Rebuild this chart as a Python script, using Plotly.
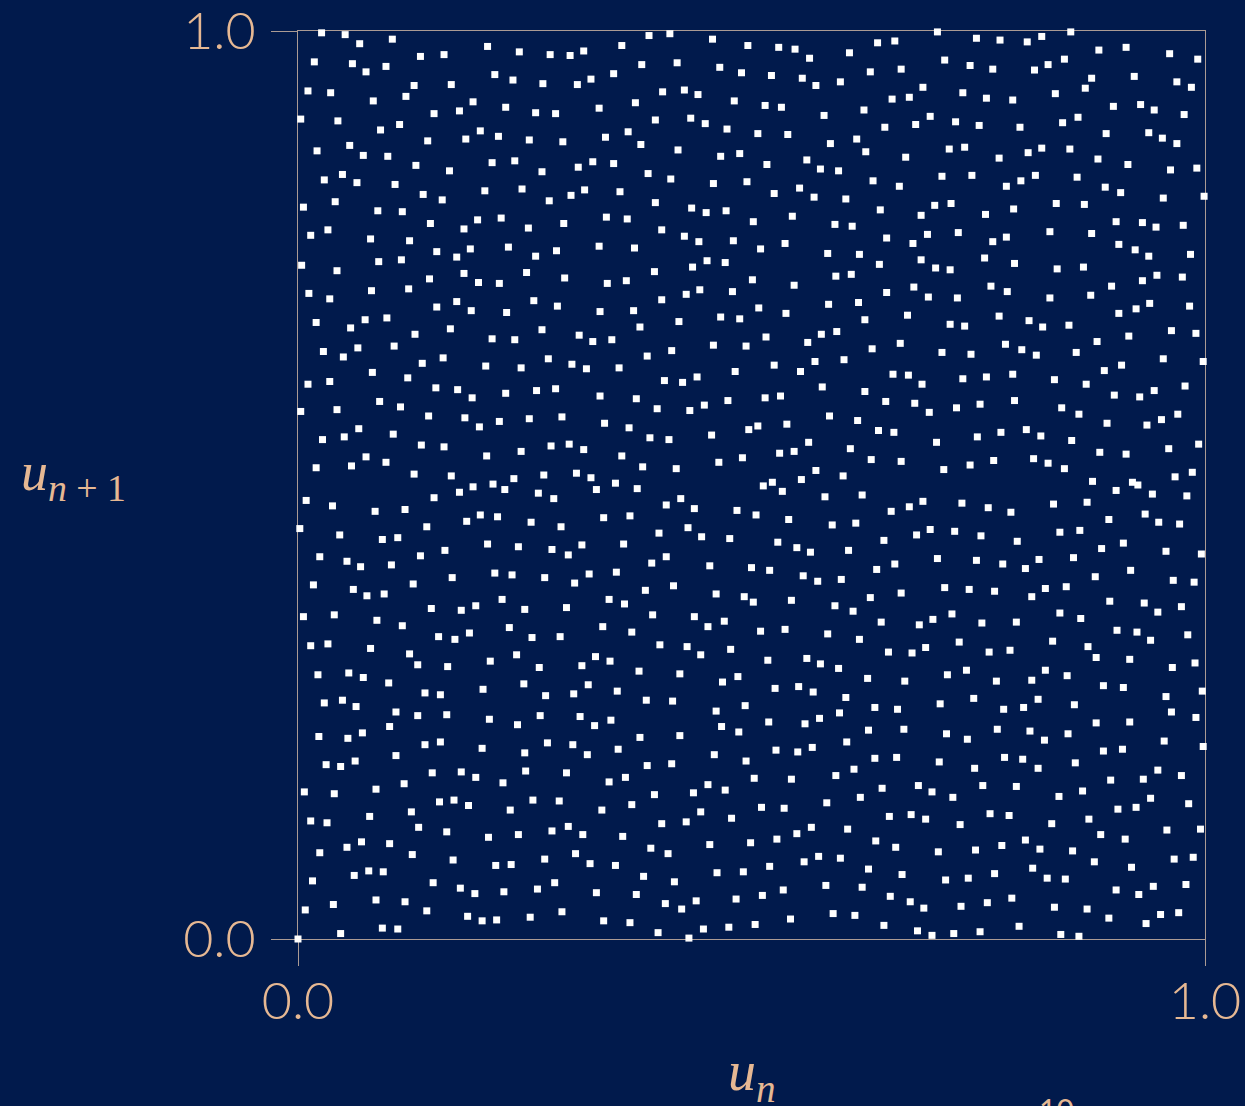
import plotly.graph_objects as go

# Successive pairs (u_n, u_{n+1}) of the generator, grouped by region of the unit square.
# top band (u_{n+1} > 2/3)
un_top_left = [0.026,0.052,0.068,0.104,0.018,0.060,0.075,0.097,0.135,0.161,0.209,0.244,0.278,0.300,0.315,
    0.011,0.036,0.083,0.119,0.128,0.169,0.217,0.237,0.270,0.308,0.323,0.003,0.044,0.091,0.112,0.150,0.178,
    0.193,0.229,0.262,0.284,0.021,0.057,0.072,0.099,0.143,0.185,0.201,0.221,0.255,0.292,0.029,0.049,0.065,
    0.107,0.130,0.167,0.214,0.239,0.269,0.309,0.325,0.006,0.041,0.088,0.115,0.138,0.159,0.206,0.247,0.277,
    0.301,0.316,0.014,0.033,0.080,0.123,0.146,0.183,0.198,0.224,0.254,0.293,0.004,0.043,0.089,0.114,0.153,
    0.175,0.190,0.232,0.262,0.285,0.012,0.035,0.081,0.122,0.145,0.183,0.199,0.222,0.252,0.294,0.020,0.058,
    0.074,0.098,0.153,0.175,0.191,0.230,0.260,0.286,0.168,0.269]
un1_top_left = [0.998,0.996,0.986,0.991,0.966,0.964,0.955,0.961,0.972,0.974,0.983,0.977,0.974,0.973,0.978,
    0.934,0.932,0.923,0.928,0.940,0.941,0.952,0.946,0.942,0.941,0.947,0.903,0.901,0.891,0.897,0.909,0.912,
    0.922,0.916,0.910,0.909,0.868,0.874,0.863,0.862,0.879,0.881,0.890,0.884,0.880,0.878,0.836,0.842,0.833,
    0.831,0.852,0.846,0.855,0.857,0.845,0.850,0.856,0.806,0.812,0.802,0.801,0.820,0.814,0.824,0.826,0.813,
    0.819,0.825,0.775,0.781,0.771,0.769,0.788,0.782,0.792,0.794,0.783,0.788,0.742,0.736,0.746,0.748,0.757,
    0.751,0.760,0.762,0.752,0.758,0.711,0.705,0.714,0.716,0.727,0.733,0.723,0.722,0.734,0.728,0.679,0.673,
    0.682,0.684,0.696,0.702,0.692,0.690,0.703,0.697,0.672,0.671]

un_top_mid = [0.387,0.410,0.457,0.357,0.496,0.530,0.548,0.564,0.608,0.639,0.658,
    0.379,0.418,0.348,0.465,0.489,0.522,0.556,0.571,0.598,0.631,0.665,
    0.402,0.426,0.441,0.372,0.332,0.481,0.515,0.533,0.580,0.624,0.655,
    0.394,0.433,0.449,0.339,0.364,0.473,0.507,0.540,0.587,0.616,0.647,
    0.378,0.419,0.466,0.487,0.348,0.517,0.561,0.576,0.596,0.626,
    0.386,0.411,0.355,0.394,0.458,0.495,0.525,0.553,0.569,0.604,0.634,0.663,
    0.340,0.363,0.434,0.450,0.472,0.502,0.545,0.401,0.426,0.442,0.480,0.592,0.611,0.642,0.649,
    0.332,0.371,0.510,0.537,0.584,0.619,0.641,
    0.393,0.435,0.451,0.471,0.341,0.362,0.501,0.547,0.593,0.610,0.649,
    0.401,0.428,0.443,0.479,0.333,0.370,0.508,0.538,0.585,0.618,0.377,0.420,0.466,0.487,0.625,0.594]
un1_top_mid = [0.995,0.997,0.991,0.984,0.984,0.982,0.980,0.970,0.976,0.987,0.989,
    0.963,0.965,0.953,0.960,0.954,0.951,0.948,0.940,0.944,0.955,0.958,
    0.933,0.935,0.930,0.921,0.915,0.923,0.918,0.916,0.907,0.913,0.925,
    0.902,0.904,0.898,0.883,0.889,0.892,0.887,0.886,0.876,0.881,0.894,
    0.875,0.869,0.862,0.865,0.854,0.853,0.858,0.848,0.846,0.867,
    0.843,0.837,0.823,0.811,0.832,0.834,0.821,0.827,0.817,0.815,0.835,0.829,
    0.795,0.793,0.805,0.800,0.802,0.790,0.796,0.781,0.774,0.768,0.769,0.787,0.785,0.803,0.772,
    0.763,0.761,0.760,0.766,0.755,0.754,0.743,
    0.735,0.740,0.747,0.745,0.722,0.725,0.726,0.720,0.730,0.732,0.712,
    0.704,0.710,0.715,0.713,0.691,0.692,0.695,0.689,0.699,0.701,0.674,0.680,0.685,0.683,0.682,0.669]

un_top_right = [0.705,0.748,0.774,0.804,0.820,0.852,
    0.713,0.741,0.766,0.812,0.827,0.845,0.883,0.913,0.961,0.992,
    0.689,0.674,0.733,0.759,0.788,0.835,0.868,0.875,0.922,0.969,0.985,
    0.697,0.681,0.725,0.751,0.796,0.843,0.860,0.899,0.929,0.944,0.977,
    0.718,0.735,0.670,0.773,0.805,0.820,0.851,0.891,0.938,0.953,0.969,
    0.882,0.915,0.962,0.991,
    0.710,0.743,0.781,0.797,0.813,0.859,0.890,0.907,0.954,0.999,
    0.702,0.720,0.687,0.758,0.789,0.836,0.867,0.902,0.931,0.946,0.976,
    0.694,0.678,0.728,0.766,0.781,0.829,0.875,0.905,0.923,0.938,0.984,
    0.687,0.703,0.719,0.757,0.790,0.837,0.866,0.897,0.931,0.947,0.975,
    0.679,0.695,0.727,0.764,0.782,0.829,0.874,0.905,0.924,0.939,0.983,
    0.672,0.719,0.735,0.773,0.806,0.821,0.850,0.963]
un1_top_right = [0.999,0.992,0.990,0.988,0.994,0.999,
    0.968,0.962,0.958,0.957,0.963,0.969,0.979,0.982,0.975,0.969,
    0.938,0.927,0.932,0.926,0.924,0.931,0.937,0.948,0.950,0.944,0.938,
    0.906,0.897,0.900,0.896,0.894,0.899,0.905,0.917,0.919,0.913,0.908,
    0.870,0.872,0.861,0.860,0.866,0.871,0.870,0.887,0.888,0.882,0.876,
    0.859,0.853,0.847,0.849,
    0.840,0.841,0.829,0.835,0.841,0.839,0.828,0.822,0.816,0.818,
    0.808,0.810,0.797,0.798,0.804,0.810,0.809,0.790,0.789,0.784,0.786,
    0.776,0.766,0.778,0.768,0.773,0.779,0.777,0.765,0.759,0.752,0.754,
    0.748,0.739,0.737,0.750,0.744,0.738,0.740,0.719,0.725,0.731,0.729,
    0.718,0.707,0.706,0.719,0.713,0.706,0.709,0.689,0.694,0.700,0.697,
    0.687,0.677,0.675,0.686,0.681,0.674,0.676,0.670]

# middle band (1/3 < u_{n+1} < 2/3)
un_mid_left = [0.129,0.310,0.325,0.214,0.239,
    0.028,0.050,0.066,0.106,0.137,0.160,0.207,0.246,0.276,0.302,0.318,
    0.011,0.035,0.082,0.121,0.152,0.176,0.192,0.229,0.263,0.284,
    0.003,0.043,0.090,0.113,0.144,0.184,0.200,0.222,0.255,0.291,
    0.027,0.051,0.067,0.105,0.136,0.161,0.208,0.246,0.279,0.299,0.315,
    0.020,0.059,0.075,0.097,0.128,0.169,0.193,0.215,0.228,0.238,0.271,0.307,0.323,0.329,
    0.178,0.265,0.282,0.150,
    0.009,0.038,0.085,0.118,
    0.002,0.046,0.093,0.110,0.142,0.186,0.201,0.220,0.257,0.290,
    0.024,0.054,0.069,0.103,0.135,0.162,0.209,0.243,0.280,0.298,0.313,
    0.017,0.061,0.076,0.095,0.127,0.170,0.217,0.236,0.272,0.305,0.321,
    0.006,0.040,0.087,0.115,0.147,0.180,0.196,0.225,0.250,0.296,
    0.155,0.189,0.233,0.258,0.289]
un1_mid_left = [0.666,0.665,0.658,0.661,0.660,
    0.647,0.641,0.651,0.653,0.634,0.640,0.631,0.629,0.639,0.633,0.628,
    0.611,0.614,0.624,0.618,0.607,0.605,0.596,0.601,0.604,0.606,
    0.581,0.583,0.592,0.586,0.576,0.574,0.564,0.570,0.573,0.575,
    0.550,0.553,0.562,0.556,0.544,0.542,0.532,0.537,0.543,0.545,0.539,
    0.519,0.521,0.531,0.525,0.512,0.510,0.498,0.501,0.495,0.507,0.511,0.513,0.508,0.495,
    0.492,0.491,0.485,0.486,
    0.483,0.477,0.471,0.473,
    0.452,0.445,0.440,0.442,0.454,0.460,0.467,0.465,0.459,0.454,
    0.421,0.416,0.410,0.412,0.422,0.428,0.435,0.432,0.429,0.423,0.434,
    0.390,0.385,0.378,0.380,0.391,0.398,0.403,0.401,0.398,0.392,0.402,
    0.355,0.357,0.351,0.345,0.364,0.362,0.367,0.374,0.363,0.365,
    0.333,0.337,0.343,0.332,0.333]

un_mid_mid = [0.346,0.458,0.494,0.516,0.562,0.577,0.633,0.664,
    0.385,0.412,0.354,0.404,0.424,0.440,0.482,0.525,0.554,0.570,0.602,0.656,
    0.333,0.373,0.396,0.432,0.448,0.474,0.515,0.532,0.578,0.625,0.648,
    0.338,0.365,0.388,0.409,0.456,0.497,0.507,0.539,0.586,0.617,0.640,0.657,
    0.357,0.380,0.417,0.464,0.490,0.531,0.547,0.563,0.609,0.632,0.665,
    0.350,0.374,0.406,0.422,0.437,0.513,0.523,0.534,0.555,0.571,0.601,0.581,0.622,
    0.337,0.366,0.398,0.430,0.445,0.476,0.484,0.505,0.541,0.589,0.615,0.654,
    0.359,0.390,0.406,0.454,0.529,0.550,0.565,0.607,0.646,
    0.351,0.383,0.414,0.461,0.500,0.520,0.557,0.573,0.599,0.638,0.658,
    0.343,0.360,0.391,0.437,0.452,0.470,0.492,0.502,0.544,0.592,0.612,0.631,0.643,0.665,
    0.336,0.368,0.510,0.537,0.584]
un1_mid_mid = [0.660,0.654,0.653,0.663,0.657,0.666,0.650,0.656,
    0.642,0.648,0.629,0.615,0.613,0.619,0.625,0.632,0.625,0.636,0.638,0.622,
    0.598,0.595,0.584,0.582,0.588,0.593,0.596,0.598,0.608,0.603,0.592,
    0.568,0.563,0.552,0.550,0.555,0.561,0.565,0.567,0.576,0.571,0.560,0.558,
    0.532,0.520,0.518,0.525,0.530,0.535,0.537,0.547,0.540,0.528,0.526,
    0.502,0.496,0.478,0.485,0.474,0.499,0.503,0.493,0.506,0.516,0.510,0.487,0.489,
    0.464,0.466,0.447,0.453,0.443,0.441,0.472,0.467,0.462,0.456,0.458,0.471,
    0.435,0.414,0.421,0.411,0.437,0.431,0.426,0.428,0.439,
    0.404,0.384,0.389,0.380,0.409,0.406,0.400,0.394,0.396,0.407,0.413,
    0.374,0.369,0.357,0.355,0.344,0.350,0.377,0.371,0.373,0.367,0.361,0.376,0.349,0.381,
    0.344,0.338,0.339,0.341,0.336]

un_mid_right = [0.710,0.742,0.780,0.798,0.814,0.858,0.881,0.916,0.990,0.954,0.998,
    0.673,0.688,0.733,0.759,0.788,0.834,0.869,0.889,0.908,0.900,0.928,0.944,0.978,
    0.680,0.696,0.726,0.752,0.790,0.842,0.861,0.892,0.936,0.952,0.970,
    0.704,0.749,0.775,0.803,0.819,0.853,0.884,0.913,0.960,0.993,
    0.712,0.741,0.767,0.811,0.827,0.845,0.876,0.902,0.920,0.926,0.942,0.967,0.986,0.980,
    0.674,0.689,0.732,0.761,0.786,0.833,0.870,0.894,0.934,0.949,0.972,
    0.682,0.697,0.724,0.753,0.793,0.840,0.862,0.886,0.910,0.957,0.996,
    0.705,0.748,0.777,0.802,0.817,0.855,0.879,0.918,0.965,0.988,
    0.713,0.740,0.768,0.809,0.824,0.847,0.895,0.933,0.948,0.974,
    0.685,0.700,0.721,0.754,0.792,0.840,0.863,0.903,0.925,0.981]
un1_mid_right = [0.646,0.644,0.655,0.649,0.643,0.646,0.658,0.664,0.667,0.639,0.636,
    0.621,0.611,0.617,0.619,0.622,0.616,0.611,0.626,0.632,0.599,0.597,0.604,0.609,
    0.590,0.580,0.585,0.589,0.593,0.585,0.578,0.568,0.566,0.572,0.578,
    0.547,0.553,0.558,0.561,0.554,0.549,0.536,0.534,0.540,0.545,
    0.517,0.522,0.527,0.529,0.524,0.518,0.504,0.494,0.503,0.500,0.490,0.509,0.514,0.488,
    0.476,0.482,0.480,0.475,0.470,0.479,0.481,0.462,0.468,0.459,0.457,
    0.445,0.451,0.449,0.444,0.438,0.448,0.450,0.430,0.436,0.427,0.424,
    0.419,0.417,0.413,0.408,0.418,0.420,0.399,0.406,0.395,0.393,
    0.387,0.385,0.383,0.377,0.386,0.388,0.372,0.370,0.360,0.366,
    0.346,0.352,0.358,0.348,0.349,0.359,0.353,0.340,0.338,0.335]

# bottom band (u_{n+1} < 1/3)
un_bot_left = [0.014,0.033,0.080,0.123,0.132,0.165,0.173,0.212,0.241,0.266,0.313,0.328,
    0.022,0.056,0.072,0.100,0.140,0.157,0.204,0.249,0.273,0.304,0.320,
    0.029,0.049,0.064,0.108,0.132,0.164,0.211,0.242,0.267,0.311,0.327,
    0.023,0.055,0.071,0.101,0.140,0.157,0.203,0.250,0.275,0.303,0.319,
    0.031,0.047,0.063,0.108,0.148,0.180,0.196,0.226,0.251,0.296,
    0.007,0.040,0.086,0.117,0.156,0.172,0.188,0.234,0.259,0.288,
    0.014,0.032,0.079,0.125,0.133,0.164,0.210,0.243,0.280,0.298,0.314,
    0.024,0.054,0.070,0.101,0.126,0.171,0.218,0.235,0.272,0.306,0.322,
    0.016,0.062,0.078,0.094,0.149,0.179,0.195,0.227,0.264,0.283,0.329,
    0.008,0.039,0.086,0.118,0.142,0.187,0.203,0.219,0.256,0.291,
    0.047,0.093,0.110,0.000]
un1_bot_left = [0.323,0.325,0.320,0.314,0.302,0.300,0.330,0.306,0.313,0.299,0.301,0.311,
    0.291,0.293,0.288,0.282,0.271,0.269,0.275,0.281,0.268,0.270,0.280,
    0.260,0.263,0.256,0.250,0.246,0.247,0.242,0.236,0.246,0.245,0.235,
    0.223,0.221,0.227,0.234,0.214,0.217,0.210,0.205,0.216,0.214,0.203,
    0.192,0.190,0.196,0.202,0.183,0.184,0.178,0.172,0.185,0.183,
    0.162,0.160,0.165,0.171,0.151,0.153,0.147,0.142,0.153,0.152,
    0.130,0.128,0.135,0.140,0.123,0.118,0.112,0.115,0.119,0.124,0.115,
    0.095,0.101,0.107,0.105,0.093,0.087,0.081,0.082,0.088,0.094,0.083,
    0.064,0.070,0.075,0.074,0.062,0.056,0.050,0.052,0.055,0.062,0.051,
    0.032,0.038,0.043,0.041,0.031,0.025,0.020,0.021,0.024,0.030,
    0.006,0.012,0.011,0.000]

un_bot_mid = [0.619,0.399,0.429,0.444,0.477,0.344,0.376,0.421,0.468,0.485,0.518,0.561,0.576,0.596,0.651,0.628,
    0.352,0.384,0.413,0.461,0.493,0.526,0.552,0.568,0.604,0.636,0.661,
    0.345,0.377,0.421,0.467,0.486,0.519,0.559,0.575,0.597,0.629,
    0.353,0.385,0.412,0.459,0.494,0.527,0.551,0.567,0.605,0.636,0.660,
    0.343,0.361,0.393,0.436,0.452,0.471,0.503,0.544,0.593,0.613,0.644,0.620,
    0.335,0.368,0.401,0.428,0.444,0.478,0.511,0.536,0.583,0.652,
    0.358,0.389,0.408,0.454,0.499,0.528,0.550,0.566,0.606,0.637,0.659,
    0.350,0.381,0.415,0.462,0.491,0.520,0.558,0.574,0.598,0.629,0.666,
    0.373,0.405,0.423,0.439,0.483,0.512,0.535,0.582,0.622,0.653,
    0.337,0.366,0.397,0.431,0.447,0.475,0.504,0.543,0.590,0.614,0.646]
un1_bot_mid = [0.330,0.324,0.322,0.313,0.319,0.306,0.295,0.292,0.283,0.289,0.307,0.309,0.303,0.298,0.316,0.287,
    0.273,0.263,0.262,0.251,0.257,0.276,0.278,0.272,0.266,0.255,0.253,
    0.241,0.222,0.224,0.234,0.228,0.239,0.237,0.243,0.249,0.230,
    0.209,0.191,0.193,0.203,0.196,0.208,0.206,0.211,0.217,0.199,0.200,
    0.173,0.178,0.159,0.161,0.170,0.164,0.177,0.176,0.180,0.187,0.166,0.156,
    0.142,0.148,0.127,0.129,0.140,0.133,0.145,0.144,0.150,0.135,
    0.113,0.100,0.094,0.104,0.106,0.110,0.116,0.123,0.121,0.108,0.101,
    0.081,0.069,0.063,0.073,0.074,0.080,0.085,0.091,0.089,0.077,0.071,
    0.049,0.039,0.033,0.042,0.044,0.048,0.054,0.059,0.057,0.047,
    0.020,0.018,0.007,0.001,0.011,0.013,0.016,0.022,0.028,0.026,0.015]

un_bot_right = [0.729,0.832,0.940,
    0.677,0.692,0.762,0.785,0.871,0.880,0.917,0.989,0.964,
    0.669,0.716,0.737,0.770,0.809,0.824,0.848,0.888,0.910,0.957,0.997,
    0.708,0.745,0.778,0.800,0.816,0.856,0.880,0.917,0.963,0.990,
    0.668,0.715,0.738,0.771,0.807,0.823,0.849,0.888,0.909,0.955,0.998,
    0.707,0.746,0.779,0.799,0.816,0.857,0.896,0.932,0.948,0.974,
    0.684,0.699,0.722,0.755,0.792,0.839,0.865,0.904,0.924,0.940,0.982,
    0.676,0.692,0.730,0.763,0.784,0.831,0.872,0.885,0.912,0.958,0.995,
    0.706,0.747,0.776,0.802,0.818,0.854,0.878,0.919,0.966,0.987,
    0.714,0.739,0.768,0.810,0.826,0.846,0.902,0.927,0.943,0.979,
    0.675,0.690,0.731,0.760,0.787,0.834,0.870,0.894,0.935,0.951,0.971,
    0.683,0.699,0.723,0.752,0.795,0.841,0.861]
un1_bot_right = [0.327,0.328,0.329,
    0.315,0.321,0.316,0.318,0.322,0.310,0.308,0.304,0.299,
    0.284,0.291,0.296,0.284,0.285,0.296,0.290,0.279,0.277,0.267,0.273,
    0.259,0.265,0.253,0.255,0.264,0.258,0.238,0.239,0.250,0.244,
    0.231,0.226,0.220,0.231,0.229,0.219,0.226,0.207,0.209,0.218,0.212,
    0.195,0.188,0.200,0.198,0.188,0.194,0.175,0.176,0.186,0.180,
    0.169,0.162,0.156,0.169,0.168,0.157,0.163,0.143,0.145,0.155,0.149,
    0.137,0.132,0.126,0.138,0.136,0.127,0.132,0.115,0.110,0.120,0.121,
    0.096,0.098,0.103,0.109,0.099,0.097,0.085,0.079,0.088,0.090,
    0.065,0.067,0.072,0.078,0.067,0.066,0.054,0.049,0.058,0.060,
    0.041,0.034,0.036,0.040,0.045,0.035,0.033,0.023,0.017,0.027,0.029,
    0.009,0.004,0.006,0.008,0.014,0.005,0.003]

tick_vals = [0.0, 1.0]
tick_text = ["0.0", "1.0"]

blocks = [
    (un_top_left, un1_top_left), (un_top_mid, un1_top_mid), (un_top_right, un1_top_right),
    (un_mid_left, un1_mid_left), (un_mid_mid, un1_mid_mid), (un_mid_right, un1_mid_right),
    (un_bot_left, un1_bot_left), (un_bot_mid, un1_bot_mid), (un_bot_right, un1_bot_right),
]
u_n, u_next = [], []
for xs, ys in blocks:
    assert len(xs) == len(ys), (len(xs), len(ys))
    u_n.extend(xs)
    u_next.extend(ys)

BG = "#011a4c"
PEACH = "#e6b893"
FRAME = "#ab9b94"

fig = go.Figure(
    go.Scatter(
        x=u_n, y=u_next, mode="markers",
        marker=dict(symbol="square", size=7, color="white", line=dict(width=0)),
        cliponaxis=False, hoverinfo="skip",
    )
)

axis_common = dict(
    range=[0, 1], tickvals=tick_vals, ticktext=tick_text,
    ticks="outside", ticklen=26, tickwidth=1, tickcolor=FRAME,
    showline=True, linecolor=FRAME, linewidth=1, mirror=True,
    showgrid=False, zeroline=False, layer="below traces",
    tickfont=dict(family="Lato", size=52, color=PEACH, weight=300),
    ticklabeloverflow="allow",
    fixedrange=True, automargin=False,
)

fig.update_layout(
    width=1245, height=1106,
    margin=dict(l=298, r=40, t=31, b=167, pad=0, autoexpand=False),
    paper_bgcolor=BG, plot_bgcolor=BG,
    showlegend=False,
    xaxis=dict(**axis_common, ticklabelstandoff=-9),
    yaxis=dict(**axis_common, ticklabelstandoff=5),
    annotations=[
        dict(text="<i>u</i><sub><i>n</i></sub>", xref="paper", yref="paper",
             x=0.5, y=-0.150, xanchor="center", yanchor="middle", showarrow=False,
             font=dict(family="Liberation Serif", size=56, color=PEACH)),
        dict(text="<i>u</i><sub><i>n</i> + 1</sub>", xref="paper", yref="paper",
             x=-0.248, y=0.5105, xanchor="center", yanchor="middle", showarrow=False,
             font=dict(family="Liberation Serif", size=54, color=PEACH)),
        dict(text="10", xref="paper", yref="paper",
             x=0.836, y=-0.165, xanchor="center", yanchor="top", showarrow=False,
             font=dict(family="Lato", size=30, color=PEACH)),
    ],
)

fig.write_html("out.html")
